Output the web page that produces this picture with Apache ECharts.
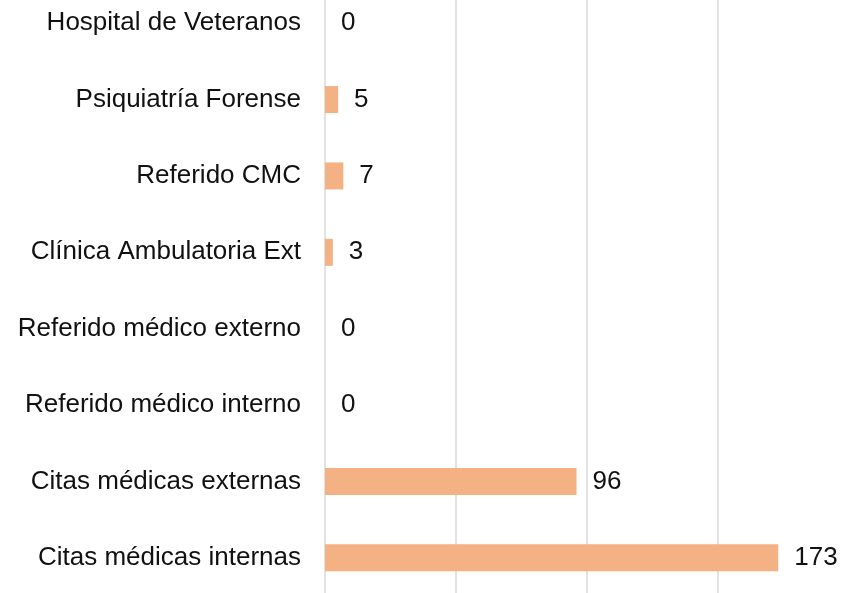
<!DOCTYPE html>
<html>
<head>
<meta charset="utf-8">
<script src="https://cdn.jsdelivr.net/npm/echarts@6/dist/echarts.min.js"></script>
<style>
  html, body { margin: 0; padding: 0; background: #fff; }
  #main { width: 846px; height: 593px; }
</style>
</head>
<body>
<div id="main"></div>
<script>
// categories from bottom to top
var categories = [
    'Citas médicas internas',
    'Citas médicas externas',
    'Referido médico interno',
    'Referido médico externo',
    'Clínica Ambulatoria Ext',
    'Referido CMC',
    'Psiquiatría Forense',
    'Hospital de Veteranos'
];
var values = [173, 96, 0, 0, 3, 7, 5, 0];

var myChart = echarts.init(document.getElementById('main'));
var option = {
    animation: false,
    textStyle: { fontFamily: 'Liberation Sans, Arial, sans-serif' },
    grid: {
        left: 325,
        top: -15,
        width: 524,
        height: 611,
        containLabel: false,
        outerBoundsMode: 'none'
    },
    xAxis: {
        type: 'value',
        min: 0,
        max: 200,
        interval: 50,
        axisLabel: { show: false },
        axisLine: { show: false },
        axisTick: { show: false },
        splitLine: { lineStyle: { color: '#d9d9d9', width: 1.5 } }
    },
    yAxis: {
        type: 'category',
        data: categories,
        axisLine: { show: false },
        axisTick: { show: false },
        axisLabel: {
            margin: 24,
            fontSize: 26,
            color: '#111'
        }
    },
    series: [{
        type: 'bar',
        data: values,
        barWidth: 27,
        itemStyle: { color: '#F4B183' },
        label: {
            show: true,
            position: 'right',
            distance: 16,
            fontSize: 26,
            color: '#111'
        }
    }]
};
myChart.setOption(option);
</script>
</body>
</html>
